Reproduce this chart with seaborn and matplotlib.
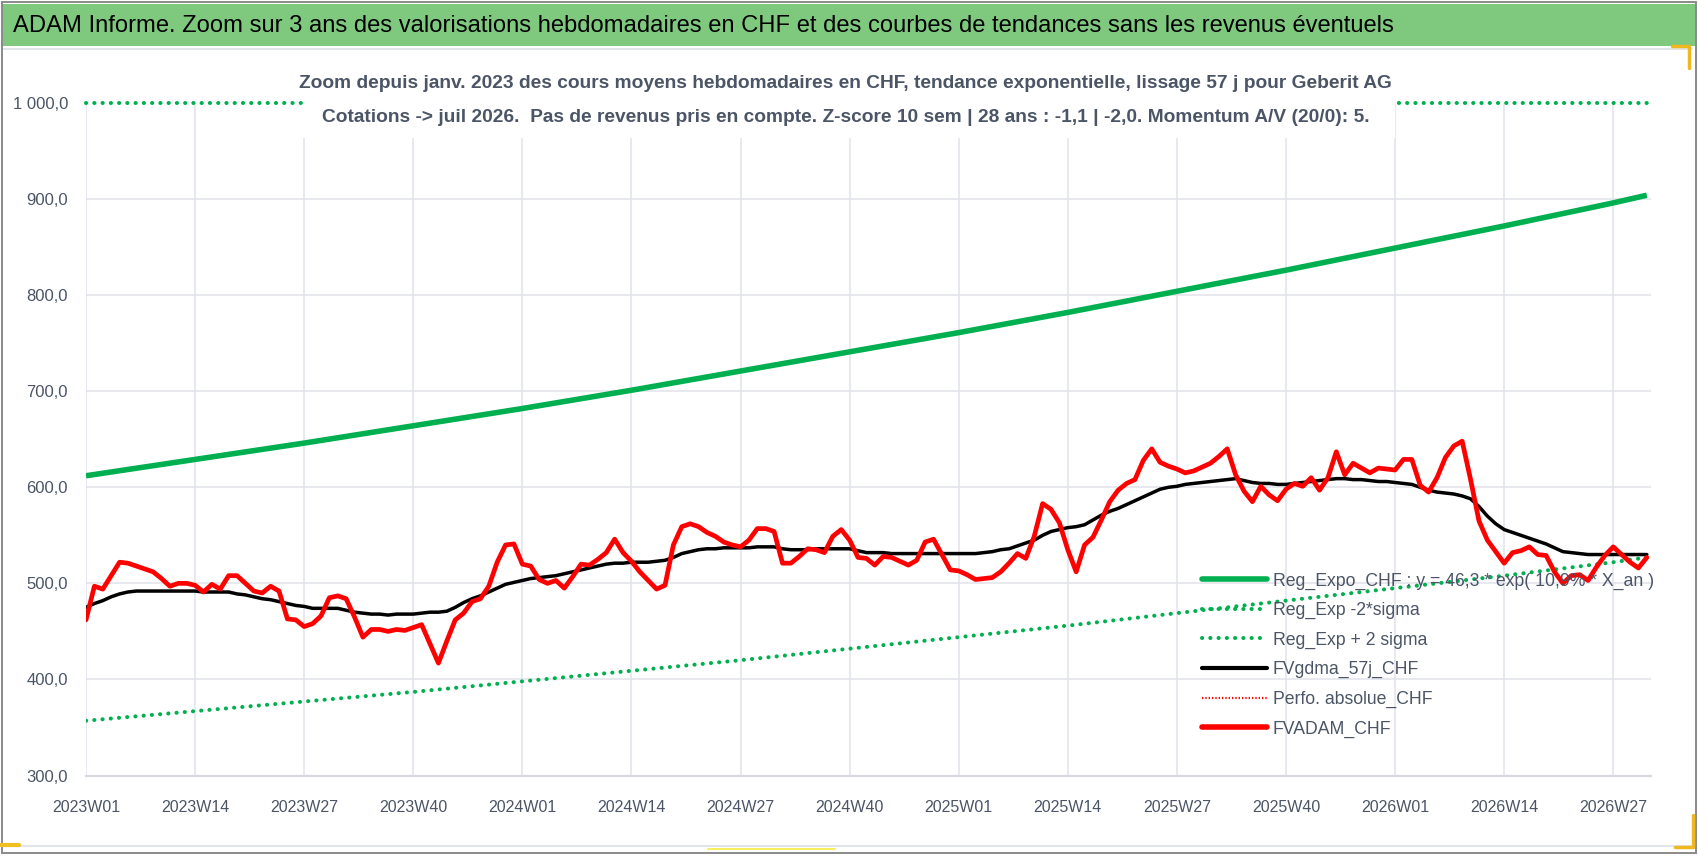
import numpy as np
import pandas as pd
import matplotlib
matplotlib.use("Agg")
import matplotlib.pyplot as plt
import seaborn as sns
from matplotlib import font_manager
from matplotlib.lines import Line2D
from matplotlib.patches import Rectangle

# ---------------- data ----------------
title_text = ("ADAM Informe. Zoom sur 3 ans des valorisations hebdomadaires en CHF "
              "et des courbes de tendances sans les revenus éventuels")
subtitle_1 = ("Zoom depuis janv. 2023 des cours moyens hebdomadaires en CHF, "
              "tendance exponentielle, lissage 57 j pour Geberit AG")
subtitle_2 = ("Cotations -> juil 2026.  Pas de revenus pris en compte. Z-score 10 sem | "
              "28 ans : -1,1 | -2,0. Momentum A/V (20/0): 5.")

x_tick_labels = ["2023W01", "2023W14", "2023W27", "2023W40", "2024W01", "2024W14",
                 "2024W27", "2024W40", "2025W01", "2025W14", "2025W27", "2025W40",
                 "2026W01", "2026W14", "2026W27"]
x_tick_weeks = [0, 13, 26, 39, 52, 65, 78, 91, 104, 117, 130, 143, 156, 169, 182]
y_tick_values = [300, 400, 500, 600, 700, 800, 900, 1000]
y_tick_labels = ["300,0", "400,0", "500,0", "600,0", "700,0", "800,0", "900,0", "1 000,0"]

legend_labels = ["Reg_Expo_CHF : y = 46,3 * exp( 10,9% * X_an )",
                 "Reg_Exp -2*sigma",
                 "Reg_Exp + 2 sigma",
                 "FVgdma_57j_CHF",
                 "Perfo. absolue_CHF",
                 "FVADAM_CHF"]

# weekly average price (red)
fvadam_chf = [
    462, 497, 494, 508, 522, 521, 518, 515, 512, 505,
    497, 500, 500, 498, 491, 499, 494, 508, 508, 500,
    492, 490, 497, 492, 463, 462, 455, 458, 466, 485,
    487, 484, 465, 444, 452, 452, 450, 452, 451, 454,
    457, 437, 417, 440, 462, 469, 481, 484, 497, 522,
    540, 541, 520, 518, 504, 500, 503, 495, 507, 520,
    519, 525, 532, 546, 532, 523, 512, 503, 494, 498,
    540, 559, 562, 559, 553, 549, 543, 540, 538, 545,
    557, 557, 554, 521, 521, 528, 536, 535, 532, 549,
    556, 545, 527, 526, 519, 528, 527, 523, 519, 524,
    543, 546, 530, 514, 513, 509, 504, 505, 506, 512,
    521, 531, 526, 549, 583, 577, 563, 535, 512, 540,
    548, 566, 585, 597, 604, 608, 628, 640, 626, 622,
    619, 615, 617, 621, 625, 632, 640, 613, 596, 585,
    601, 592, 586, 598, 604, 601, 610, 597, 610, 637,
    613, 625, 620, 615, 620, 619, 618, 629, 629, 602,
    595, 610, 631, 643, 648, 608, 565, 545, 533, 521,
    532, 534, 538, 530, 529, 512, 500, 508, 509, 503,
    517, 529, 538, 530, 522, 516, 527]

# 57-day smoothing (black)
fvgdma_57j_chf = [
    475, 479, 482, 486, 489, 491, 492, 492, 492, 492,
    492, 492, 492, 492, 491, 491, 491, 491, 489, 488,
    486, 484, 483, 481, 479, 477, 476, 474, 474, 474,
    474, 472, 470, 469, 468, 468, 467, 468, 468, 468,
    469, 470, 470, 471, 475, 480, 484, 487, 491, 495,
    499, 501, 503, 505, 506, 507, 508, 510, 512, 514,
    516, 518, 520, 521, 521, 522, 522, 522, 523, 524,
    527, 531, 533, 535, 536, 536, 537, 537, 537, 537,
    538, 538, 538, 536, 535, 535, 535, 536, 536, 536,
    536, 536, 534, 532, 532, 532, 531, 531, 531, 531,
    531, 531, 531, 531, 531, 531, 531, 532, 533, 535,
    536, 539, 542, 545, 550, 554, 556, 558, 559, 561,
    566, 571, 575, 578, 582, 586, 590, 594, 598, 600,
    601, 603, 604, 605, 606, 607, 608, 609, 607, 605,
    604, 604, 603, 603, 604, 605, 606, 607, 608, 609,
    609, 608, 608, 607, 606, 606, 605, 604, 603, 600,
    597, 595, 594, 593, 591, 588, 580, 570, 562, 556,
    553, 550, 547, 544, 541, 537, 533, 532, 531, 530,
    530, 530, 530, 530, 530, 530, 530]

# trend curves read at the quarterly ticks and at the last week
trend_weeks = [0, 13, 26, 39, 52, 65, 78, 91, 104, 117, 130, 143, 156, 169, 182, 186]
reg_expo_chf = [612, 629, 646, 664, 682, 701, 721, 741, 761, 782, 804, 826, 849, 872, 896, 904]
reg_exp_minus_2sigma = [357, 367, 377, 387, 398, 409, 420, 432, 444, 456, 469, 482, 495, 508, 522, 527]
plus_weeks = [0, 186]
reg_exp_plus_2sigma = [1000, 1000]   # drawn at the top of the scale

weeks = list(range(len(fvadam_chf)))

# ---------------- style ----------------
sns.set_theme(style="white")
available = {f.name for f in font_manager.fontManager.ttflist}
main_font = next((f for f in ["Liberation Sans Narrow", "DejaVu Sans Condensed",
                              "Liberation Sans"] if f in available), "DejaVu Sans")
plt.rcParams["font.family"] = [main_font, "DejaVu Sans"]

W, H = 1698, 856
fig = plt.figure(figsize=(W / 100, H / 100), dpi=100)
fig.patch.set_facecolor("white")

def fx(px):
    return px / W

def fy(py):
    return 1 - py / H

ax_left, ax_right, ax_top, ax_bottom = 86, 1651, 103, 775.5
ax = fig.add_axes([fx(ax_left), fy(ax_bottom), fx(ax_right - ax_left), (ax_bottom - ax_top) / H])
ax.set_facecolor("none")

GREEN = "#00B050"
RED = "#FF0000"
TXT = "#4b5566"
GRID = "#e0e3ea"
DOT = (0, (0.05, 2.0))

df = pd.DataFrame({"week": weeks, "FVADAM_CHF": fvadam_chf, "FVgdma_57j_CHF": fvgdma_57j_chf})
tr = pd.DataFrame({"week": trend_weeks, "expo": reg_expo_chf, "minus": reg_exp_minus_2sigma})
up = pd.DataFrame({"week": plus_weeks, "plus": reg_exp_plus_2sigma})

sns.lineplot(data=tr, x="week", y="expo", ax=ax, color=GREEN, lw=4.0,
             solid_capstyle="butt", zorder=3)
sns.lineplot(data=tr, x="week", y="minus", ax=ax, color=GREEN, lw=2.9,
             linestyle=DOT, dash_capstyle="round", zorder=3)
sns.lineplot(data=up, x="week", y="plus", ax=ax, color=GREEN, lw=2.9,
             linestyle=DOT, dash_capstyle="round", zorder=3, clip_on=False)
sns.lineplot(data=df, x="week", y="FVgdma_57j_CHF", ax=ax, color="black", lw=2.5,
             solid_joinstyle="round", zorder=4)
sns.lineplot(data=df, x="week", y="FVADAM_CHF", ax=ax, color=RED, lw=3.4,
             solid_joinstyle="round", zorder=5)

ax.set_xlim(0, 186.5)
ax.set_ylim(300, 1000)
ax.set_xlabel("")
ax.set_ylabel("")
ax.set_xticks(x_tick_weeks)
ax.set_xticklabels(x_tick_labels)
ax.set_yticks(y_tick_values)
ax.set_yticklabels(y_tick_labels)
ax.tick_params(axis="y", length=0, pad=13, labelsize=12, labelcolor=TXT)
ax.tick_params(axis="x", length=5, width=1.2, color="#d0d3da", pad=13, labelsize=11.5,
               labelcolor=TXT, direction="out")
ax.grid(True, color=GRID, lw=1.1, zorder=0)
for val, gl in zip(ax.get_yticks(), ax.get_ygridlines()):
    if val >= 1000:
        gl.set_visible(False)
for side in ["left", "right", "top"]:
    ax.spines[side].set_visible(False)
ax.spines["bottom"].set_color("#d6d9df")
ax.spines["bottom"].set_linewidth(1.6)
ax.set_axisbelow(True)

# ---------------- legend ----------------
handles = [
    Line2D([], [], color=GREEN, lw=4.0, solid_capstyle="round"),
    Line2D([], [], color=GREEN, lw=2.9, linestyle=DOT, dash_capstyle="round"),
    Line2D([], [], color=GREEN, lw=2.9, linestyle=DOT, dash_capstyle="round"),
    Line2D([], [], color="black", lw=3.0, solid_capstyle="round"),
    Line2D([], [], color=RED, lw=1.6, linestyle=(0, (0.6, 0.9))),
    Line2D([], [], color=RED, lw=4.0, solid_capstyle="round"),
]

def make_legend(fs):
    fs_px = fs * 100 / 72
    leg = ax.legend(handles, legend_labels, loc="center left",
                    bbox_to_anchor=(fx(1202), fy(655)), bbox_transform=fig.transFigure,
                    frameon=False, borderpad=0, borderaxespad=0, fontsize=fs,
                    handlelength=65 / fs_px, handletextpad=6 / fs_px,
                    labelspacing=(33 - fs_px * 1.17) / fs_px, labelcolor=TXT)
    leg.set_zorder(10)
    return leg

leg = make_legend(13.5)
fig.canvas.draw()
r = fig.canvas.get_renderer()
w0 = leg.get_texts()[0].get_window_extent(r).width
fs_new = 13.5 * 380 / w0
leg.remove()
leg = make_legend(fs_new)

# ---------------- frame and banner ----------------
fig.add_artist(Rectangle((fx(2), fy(46)), fx(1694), 42 / H, transform=fig.transFigure,
                         facecolor="#7FC97F", edgecolor="none", zorder=1))
fig.add_artist(Line2D([fx(2), fx(1692)], [fy(49), fy(49)], transform=fig.transFigure,
                      color="#dcdfe4", lw=1.2, zorder=1))
fig.add_artist(Line2D([fx(2), fx(1692)], [fy(846), fy(846)], transform=fig.transFigure,
                      color="#dcdfe4", lw=1.2, zorder=1))
fig.add_artist(Rectangle((fx(1.5), fy(853)), fx(1694.5), 851 / H, transform=fig.transFigure,
                         facecolor="none", edgecolor="#8a8a8a", lw=1.4, zorder=12))
# selection handles (yellow / orange)
fig.add_artist(Line2D([fx(1), fx(19)], [fy(845), fy(845)], transform=fig.transFigure,
                      color="#f0c020", lw=3, zorder=13))
fig.add_artist(Line2D([fx(708), fx(835)], [fy(849), fy(849)], transform=fig.transFigure,
                      color="#f7ee60", lw=1.5, zorder=13))
fig.add_artist(Line2D([fx(1672), fx(1689), fx(1689)], [fy(46), fy(46), fy(68)],
                      transform=fig.transFigure, color="#f0b820", lw=2.5, zorder=13))
fig.add_artist(Line2D([fx(1693), fx(1693), fx(1675)], [fy(815), fy(847), fy(847)],
                      transform=fig.transFigure, color="#f0b820", lw=2.5, zorder=13))

# title
t_title = fig.text(fx(13), fy(25.5), title_text, ha="left", va="center",
                   fontsize=20, color="black", zorder=14)

# subtitle with white box covering the plot top
fig.add_artist(Rectangle((fx(303), fy(138)), fx(1395 - 303), 76 / H, transform=fig.transFigure,
                         facecolor="white", edgecolor="none", zorder=8))
t_s1 = fig.text(fx(845), fy(84), subtitle_1, ha="center", va="center", fontsize=16,
                fontweight="bold", color=TXT, zorder=9)
t_s2 = fig.text(fx(846), fy(118), subtitle_2, ha="center", va="center", fontsize=16,
                fontweight="bold", color=TXT, zorder=9)

fig.canvas.draw()
r = fig.canvas.get_renderer()
wt = t_title.get_window_extent(r).width
t_title.set_fontsize(20 * 1375 / wt)
ws = t_s1.get_window_extent(r).width
fs_sub = 16 * 1095 / ws
t_s1.set_fontsize(fs_sub)
t_s2.set_fontsize(fs_sub)

fig.savefig("out.png", dpi=100, facecolor="white")
